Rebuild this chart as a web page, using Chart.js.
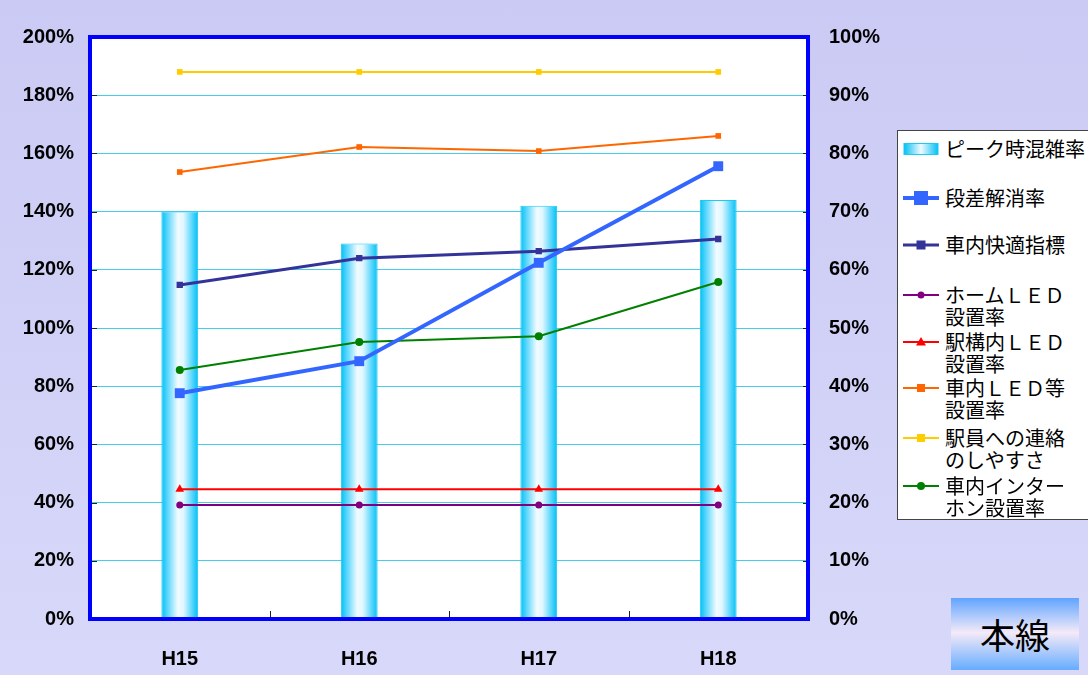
<!DOCTYPE html>
<html>
<head>
<meta charset="utf-8">
<script src="https://cdn.jsdelivr.net/npm/chart.js@4"></script>
<style>
  body { margin: 0; }
  #wrap {
    position: relative; width: 1088px; height: 675px; overflow: hidden;
    background: linear-gradient(to bottom, #cacaf4, #d8d8fa);
  }
  #chart { position: absolute; left: 0; top: 0; }
  #legend {
    position: absolute; left: 897px; top: 130px; width: 200px; height: 390px;
    background: #fff; border: 1px solid #444; box-sizing: border-box;
    font-family: "Noto Sans CJK JP", sans-serif; font-size: 20px; color: #000;
  }
  .item { position: absolute; left: 4px; white-space: pre; line-height: 22px; }
  .item svg { position: absolute; left: 0; top: 4px; }
  .item span { position: absolute; left: 43px; top: 0; }
  #badge {
    position: absolute; left: 951px; top: 598px; width: 128px; height: 72px;
    background: linear-gradient(to bottom, #60a4ff 0%, #f4eaf8 48%, #66acff 100%);
    font-family: "Noto Sans CJK JP", sans-serif; font-size: 35px;
    line-height: 72px; text-align: center; color: #000;
  }
</style>
</head>
<body>
<div id="wrap">
  <canvas id="chart"></canvas>
  <div id="legend"></div>
  <div id="badge">本線</div>
</div>
<script>
// 年度
const categories = ["H15", "H16", "H17", "H18"];
// 左軸 (0-200%)
const peakCongestion = [140, 129, 142, 144];
// 右軸 (0-100%)
const stepFree = [38.8, 44.3, 61.2, 77.8];
const comfortIndex = [57.4, 62.0, 63.2, 65.3];
const platformLed = [19.6, 19.6, 19.6, 19.6];
const stationLed = [22.3, 22.3, 22.3, 22.3];
const carLed = [76.8, 81.1, 80.4, 83.0];
const staffContact = [94.0, 94.0, 94.0, 94.0];
const intercom = [42.8, 47.6, 48.6, 57.9];

const leftMax = 200, leftStep = 20;
const rightMax = 100, rightStep = 10;

const tickFont = { family: "'Liberation Sans', Arial, sans-serif", size: 20, weight: "bold" };

const canvas = document.getElementById("chart");
canvas.width = 1088;
canvas.height = 675;

// 棒のグラデーション
const barFill = (c) => {
  const chart = c.chart;
  const xs = chart.scales.x;
  if (!xs || !chart.chartArea) return "#33ccff";
  const cx = xs.getPixelForValue(c.dataIndex);
  const w = (xs.width / categories.length) * 0.205;
  const g = chart.ctx.createLinearGradient(cx - w / 2, 0, cx + w / 2, 0);
  g.addColorStop(0, "#00c0f2");
  g.addColorStop(0.15, "#50d4fc");
  g.addColorStop(0.45, "#f2fbff");
  g.addColorStop(0.6, "#e0f7ff");
  g.addColorStop(0.85, "#50d4fc");
  g.addColorStop(1, "#00c0f2");
  return g;
};

const lineSet = (label, data, color, width, style, radius) => ({
  type: "line",
  label: label,
  data: data,
  yAxisID: "y1",
  borderColor: color,
  backgroundColor: color,
  borderWidth: width,
  pointStyle: style,
  pointRadius: radius,
  pointBorderWidth: 0,
  pointHoverRadius: radius,
  tension: 0,
  order: 0
});

// 枠、目盛り線
const frame = {
  id: "frame",
  beforeDraw(chart) {
    const { ctx, chartArea: a } = chart;
    ctx.save();
    ctx.fillStyle = "#ffffff";
    ctx.fillRect(a.left, a.top, a.width, a.height);
    ctx.restore();
  },
  afterDraw(chart) {
    const { ctx, chartArea: a, scales } = chart;
    ctx.save();
    ctx.strokeStyle = "#222";
    ctx.lineWidth = 1;
    scales.y.ticks.forEach((t) => {
      const y = Math.round(scales.y.getPixelForValue(t.value)) + 0.5;
      ctx.beginPath();
      ctx.moveTo(a.left, y); ctx.lineTo(a.left + 7, y);
      ctx.moveTo(a.right, y); ctx.lineTo(a.right - 5, y);
      ctx.stroke();
    });
    for (let i = 0; i < categories.length - 1; i++) {
      const x = Math.round((scales.x.getPixelForValue(i) + scales.x.getPixelForValue(i + 1)) / 2) + 0.5;
      ctx.beginPath();
      ctx.moveTo(x, a.bottom); ctx.lineTo(x, a.bottom - 8);
      ctx.stroke();
    }
    ctx.strokeStyle = "#0000ff";
    ctx.lineWidth = 4;
    ctx.strokeRect(a.left, a.top, a.width, a.height);
    ctx.restore();
  }
};

const chart = new Chart(canvas, {
  data: {
    labels: categories,
    datasets: [
      {
        type: "bar",
        label: "ピーク時混雑率",
        data: peakCongestion,
        yAxisID: "y",
        backgroundColor: barFill,
        borderColor: "#1ccaf6",
        borderWidth: 1,
        borderSkipped: false,
        barPercentage: 0.205,
        categoryPercentage: 1,
        order: 1
      },
      lineSet("段差解消率", stepFree, "#3366ff", 4, "rect", 7),
      lineSet("車内快適指標", comfortIndex, "#333399", 3, "rect", 4.5),
      lineSet("ホームＬＥＤ\n設置率", platformLed, "#800080", 2, "circle", 3.5),
      lineSet("駅構内ＬＥＤ\n設置率", stationLed, "#ff0000", 2, "triangle", 5),
      lineSet("車内ＬＥＤ等\n設置率", carLed, "#ff6600", 2, "rect", 4),
      lineSet("駅員への連絡\nのしやすさ", staffContact, "#ffcc00", 2, "rect", 4),
      lineSet("車内インター\nホン設置率", intercom, "#008000", 2, "circle", 4)
    ]
  },
  options: {
    responsive: false,
    animation: false,
    layout: { padding: { left: 0, right: 190, top: 37, bottom: 0 } },
    plugins: { legend: { display: false }, tooltip: { enabled: false } },
    scales: {
      x: {
        grid: { display: false },
        border: { display: false },
        ticks: { font: tickFont, color: "#000", padding: 20 },
        afterFit(s) { s.height = 56; }
      },
      y: {
        position: "left",
        min: 0, max: leftMax,
        grid: { color: "#44cdec", lineWidth: 1, drawTicks: false },
        border: { display: false },
        ticks: { stepSize: leftStep, font: tickFont, color: "#000", padding: 16, callback: (v) => v + "%" },
        afterFit(s) { s.width = 90; }
      },
      y1: {
        position: "right",
        min: 0, max: rightMax,
        grid: { display: false, drawTicks: false },
        border: { display: false },
        ticks: { stepSize: rightStep, font: tickFont, color: "#000", padding: 21, callback: (v) => v + "%" },
        afterFit(s) { s.width = 90; }
      }
    }
  },
  plugins: [frame]
});

// 凡例
const legendTops = [7, 56, 103, 153, 200, 246, 296, 344];
const legend = document.getElementById("legend");
chart.data.datasets.forEach((ds, i) => {
  const item = document.createElement("div");
  item.className = "item";
  item.style.top = legendTops[i] + "px";
  let svg;
  if (ds.type === "bar") {
    svg = '<svg width="38" height="14"><defs><linearGradient id="lg" x1="0" x2="1" y1="0" y2="0">' +
      '<stop offset="0" stop-color="#00c0f2"/><stop offset="0.5" stop-color="#f2fbff"/><stop offset="1" stop-color="#00c0f2"/>' +
      '</linearGradient></defs><rect x="2" y="1.5" width="34" height="11" fill="url(#lg)" stroke="#1ccaf6"/></svg>';
  } else {
    const r = ds.pointRadius, c = ds.borderColor;
    let m;
    if (ds.pointStyle === "rect") m = `<rect x="${19 - r}" y="${7 - r}" width="${2 * r}" height="${2 * r}" fill="${c}"/>`;
    else if (ds.pointStyle === "circle") m = `<circle cx="19" cy="7" r="${r}" fill="${c}"/>`;
    else m = `<polygon points="19,${7 - r} ${19 + r},${7 + r * 0.7} ${19 - r},${7 + r * 0.7}" fill="${c}"/>`;
    svg = `<svg width="38" height="14"><line x1="1" y1="7" x2="37" y2="7" stroke="${c}" stroke-width="${ds.borderWidth}"/>${m}</svg>`;
  }
  item.innerHTML = svg + "<span>" + ds.label + "</span>";
  legend.appendChild(item);
});
</script>
</body>
</html>
